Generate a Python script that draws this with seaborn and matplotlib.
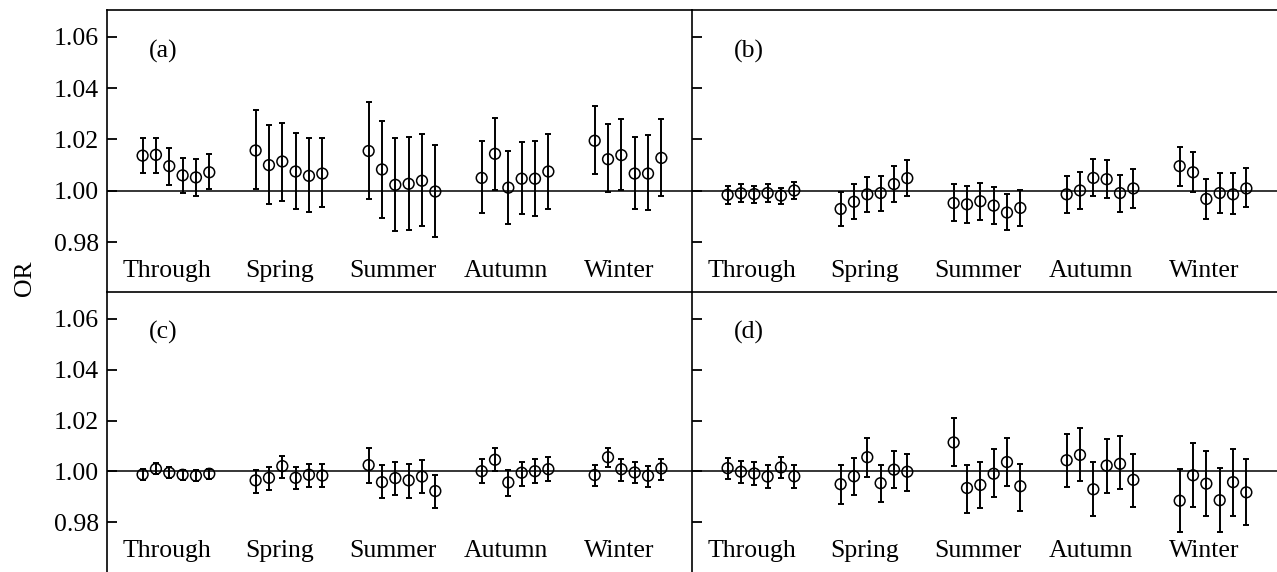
import numpy as np
import pandas as pd
import matplotlib
matplotlib.use("Agg")
import matplotlib.pyplot as plt
import seaborn as sns

seasons = ["Through", "Spring", "Summer", "Autumn", "Winter"]
panel_tags = ["(a)", "(b)", "(c)", "(d)"]
yticks = [0.98, 1.00, 1.02, 1.04, 1.06]

or_a = [[1.0137, 1.0140, 1.0096, 1.0060, 1.0052, 1.0072],
        [1.0157, 1.0100, 1.0114, 1.0075, 1.0058, 1.0067],
        [1.0155, 1.0083, 1.0023, 1.0027, 1.0039, 0.9997],
        [1.0050, 1.0144, 1.0012, 1.0047, 1.0047, 1.0075],
        [1.0195, 1.0123, 1.0139, 1.0067, 1.0067, 1.0128]]
lo_a = [[1.0069, 1.0069, 1.0023, 0.9991, 0.9979, 1.0008],
        [1.0005, 0.9947, 0.9961, 0.9928, 0.9917, 0.9935],
        [0.9968, 0.9895, 0.9843, 0.9846, 0.9863, 0.9819],
        [0.9913, 1.0001, 0.9869, 0.9908, 0.9900, 0.9928],
        [1.0067, 0.9995, 1.0001, 0.9928, 0.9924, 0.9979]]
hi_a = [[1.0206, 1.0206, 1.0167, 1.0128, 1.0123, 1.0145],
        [1.0316, 1.0255, 1.0265, 1.0227, 1.0206, 1.0206],
        [1.0348, 1.0272, 1.0206, 1.0211, 1.0221, 1.0177],
        [1.0193, 1.0282, 1.0154, 1.0189, 1.0193, 1.0221],
        [1.0331, 1.0259, 1.0278, 1.0211, 1.0216, 1.0278]]

or_b = [[0.9984, 0.9990, 0.9987, 0.9991, 0.9981, 1.0001],
        [0.9929, 0.9957, 0.9986, 0.9991, 1.0026, 1.0049],
        [0.9952, 0.9947, 0.9959, 0.9942, 0.9915, 0.9933],
        [0.9986, 1.0001, 1.0050, 1.0045, 0.9991, 1.0009],
        [1.0096, 1.0072, 0.9968, 0.9991, 0.9986, 1.0009]]
lo_b = [[0.9947, 0.9955, 0.9952, 0.9957, 0.9947, 0.9968],
        [0.9861, 0.9890, 0.9917, 0.9922, 0.9956, 0.9978],
        [0.9881, 0.9874, 0.9885, 0.9869, 0.9846, 0.9861],
        [0.9913, 0.9928, 0.9978, 0.9973, 0.9917, 0.9934],
        [1.0018, 0.9995, 0.9890, 0.9913, 0.9909, 0.9935]]
hi_b = [[1.0019, 1.0025, 1.0019, 1.0025, 1.0012, 1.0034],
        [0.9997, 1.0025, 1.0052, 1.0057, 1.0096, 1.0118],
        [1.0025, 1.0019, 1.0030, 1.0013, 0.9986, 1.0003],
        [1.0057, 1.0072, 1.0123, 1.0118, 1.0062, 1.0084],
        [1.0172, 1.0150, 1.0045, 1.0069, 1.0069, 1.0089]]

or_c = [[0.9988, 1.0010, 0.9995, 0.9987, 0.9983, 0.9991],
        [0.9965, 0.9975, 1.0021, 0.9975, 0.9987, 0.9984],
        [1.0025, 0.9958, 0.9974, 0.9965, 0.9980, 0.9923],
        [1.0001, 1.0046, 0.9957, 0.9995, 1.0001, 1.0009],
        [0.9986, 1.0056, 1.0009, 0.9996, 0.9983, 1.0012]]
lo_c = [[0.9967, 0.9991, 0.9974, 0.9967, 0.9962, 0.9971],
        [0.9916, 0.9927, 0.9976, 0.9931, 0.9939, 0.9939],
        [0.9954, 0.9897, 0.9906, 0.9895, 0.9916, 0.9856],
        [0.9954, 1.0000, 0.9905, 0.9944, 0.9954, 0.9961],
        [0.9944, 1.0017, 0.9961, 0.9954, 0.9937, 0.9965]]
hi_c = [[1.0010, 1.0034, 1.0016, 1.0007, 1.0007, 1.0010],
        [1.0007, 1.0017, 1.0061, 1.0017, 1.0030, 1.0030],
        [1.0094, 1.0027, 1.0038, 1.0030, 1.0044, 0.9988],
        [1.0050, 1.0094, 1.0005, 1.0039, 1.0050, 1.0056],
        [1.0027, 1.0094, 1.0050, 1.0039, 1.0021, 1.0050]]

or_d = [[1.0013, 0.9999, 0.9992, 0.9980, 1.0016, 0.9981],
        [0.9950, 0.9981, 1.0056, 0.9954, 1.0007, 0.9999],
        [1.0114, 0.9935, 0.9947, 0.9991, 1.0037, 0.9942],
        [1.0044, 1.0065, 0.9930, 1.0023, 1.0030, 0.9967],
        [0.9885, 0.9985, 0.9952, 0.9887, 0.9958, 0.9918]]
lo_d = [[0.9970, 0.9954, 0.9946, 0.9935, 0.9974, 0.9935],
        [0.9872, 0.9906, 0.9980, 0.9879, 0.9935, 0.9925],
        [1.0020, 0.9838, 0.9857, 0.9901, 0.9944, 0.9845],
        [0.9940, 0.9963, 0.9826, 0.9917, 0.9930, 0.9861],
        [0.9762, 0.9861, 0.9826, 0.9762, 0.9826, 0.9791]]
hi_d = [[1.0053, 1.0041, 1.0036, 1.0024, 1.0058, 1.0024],
        [1.0024, 1.0053, 1.0131, 1.0024, 1.0081, 1.0070],
        [1.0211, 1.0024, 1.0037, 1.0087, 1.0131, 1.0030],
        [1.0148, 1.0172, 1.0036, 1.0127, 1.0138, 1.0070],
        [1.0008, 1.0110, 1.0081, 1.0013, 1.0087, 1.0048]]

panels = [(or_a, lo_a, hi_a), (or_b, lo_b, hi_b),
          (or_c, lo_c, hi_c), (or_d, lo_d, hi_d)]

sns.set_theme(style="ticks")
plt.rcParams["font.family"] = ["Liberation Serif", "DejaVu Serif"]
plt.rcParams["font.size"] = 18.5

W, H = 1277, 572
fig = plt.figure(figsize=(W / 100, H / 100), dpi=100)

left_px, mid_px, top_px, div_px = 107, 692, 10, 292
pos = [
    (left_px, top_px, mid_px, div_px),
    (mid_px, top_px, W, div_px),
    (left_px, div_px, mid_px, H),
    (mid_px, div_px, W, H),
]

step = 0.118
for k, ((orv, lov, hiv), (x0, y0, x1, y1)) in enumerate(zip(panels, pos)):
    ax = fig.add_axes([x0 / W, 1 - y1 / H, (x1 - x0) / W, (y1 - y0) / H])
    rows = []
    for g, s in enumerate(seasons):
        for i in range(6):
            rows.append(dict(x=g + (i - 2.5) * step, OR=orv[g][i],
                             lo=lov[g][i], hi=hiv[g][i]))
    df = pd.DataFrame(rows)
    ax.axhline(1.0, color="black", lw=1.1, zorder=1)
    ax.errorbar(df["x"], df["OR"],
                yerr=[df["OR"] - df["lo"], df["hi"] - df["OR"]],
                fmt="none", ecolor="black", elinewidth=1.4, capsize=2.3,
                capthick=1.4, zorder=2)
    sns.scatterplot(data=df, x="x", y="OR", ax=ax, marker="o", s=60,
                    facecolors="none", edgecolor="black", linewidth=1.1,
                    zorder=3, legend=False)
    ax.set_xlim(-0.61, 4.566)
    ax.set_ylim(0.9605, 1.0705)
    ax.set_yticks(yticks)
    ax.set_xticks([])
    ax.set_xlabel("")
    ax.set_ylabel("")
    for sp in ["right", "bottom"]:
        ax.spines[sp].set_visible(False)
    for sp in ["top", "left"]:
        ax.spines[sp].set_linewidth(1.2)
        ax.spines[sp].set_color("black")
    ax.tick_params(axis="y", direction="in", length=7, width=1.3,
                   pad=6, labelsize=18.5, colors="black")
    if k % 2 == 0:
        ax.set_yticklabels([f"{t:.2f}" for t in yticks])
    else:
        ax.set_yticklabels([])
    ax.patch.set_alpha(0)
    for g, s in enumerate(seasons):
        ax.text(g - 0.08, 0.9665, s, ha="center", va="baseline",
                fontsize=18.5, color="black")
    ax.text(-0.11, 1.0545, panel_tags[k], ha="center", va="center",
            fontsize=18.5, color="black")

fig.text(25 / W, 1 - 278 / H, "OR", rotation=90, ha="center", va="center",
         fontsize=18.5, color="black")

fig.savefig("out.png", dpi=100)
